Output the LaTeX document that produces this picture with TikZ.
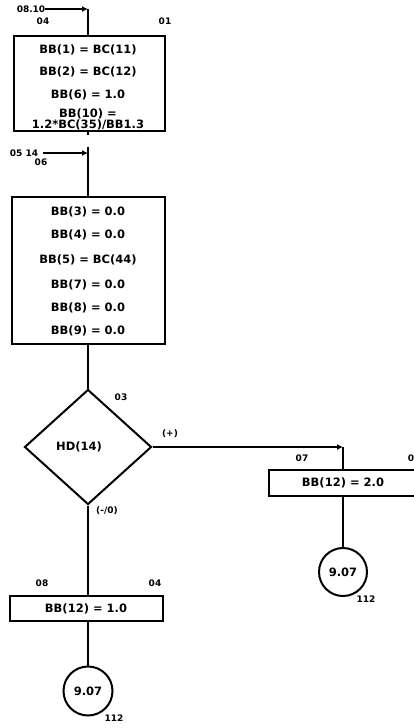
\documentclass[tikz,border=0pt]{standalone}
\usepackage{fontspec}
\setmainfont{DejaVu Sans}
\usetikzlibrary{shapes.geometric,arrows.meta}
\begin{document}
\begin{tikzpicture}[x=1pt,y=-1pt,
  every node/.style={font=\bfseries\fontsize{11.5}{12}\selectfont, inner sep=0pt},
  ln/.style={line width=1.7pt},
  boxf/.style={draw, line width=2pt, rectangle, inner sep=0pt},
  lbl/.style={font=\bfseries\fontsize{9}{10}\selectfont},
  tip/.style={-{Latex[length=6pt,width=6pt]}}]
\useasboundingbox (0,0) rectangle (414,728);
\clip (0,0) rectangle (414,728);
% box 1
\node[boxf, minimum width=151pt, minimum height=95pt] (b1) at (89.5,83.5) {};
\node (b1a) at (88,50) {BB(1) = BC(11)};
\node (b1b) at (88,72) {BB(2) = BC(12)};
\node (b1c) at (88,95) {BB(6) = 1.0};
\node (b1d) at (88,114) {BB(10) =};
\node (b1e) at (88,125) {1.2*BC(35)/BB1.3};
\node[lbl] (l0810) at (31,9) {08.10};
\node[lbl] (l04a) at (43,21) {04};
\node[lbl] (l01) at (165,21) {01};
\coordinate (c1) at (88,9);
\draw[ln, tip] (l0810.east) -- (c1);
\draw[ln] (c1) -- (88,36);
% connector between boxes
\coordinate (c2) at (88,153);
\node[lbl] (l0514) at (24,153) {05 14};
\node[lbl] (l06) at (41,162) {06};
\draw[ln] (88,131) -- (88,135);
\draw[ln, tip] (l0514.east) ++(5,0) -- (c2);
% box 2
\node[boxf, minimum width=153pt, minimum height=147pt] (b2) at (88.5,270.5) {};
\draw[ln] (88,147) -- (b2.north -| 88,0);
\node at (88,212) {BB(3) = 0.0};
\node at (88,235) {BB(4) = 0.0};
\node at (88,260) {BB(5) = BC(44)};
\node at (88,285) {BB(7) = 0.0};
\node at (88,308) {BB(8) = 0.0};
\node at (88,331) {BB(9) = 0.0};
% diamond
\node[draw, line width=2pt, diamond, minimum width=127pt, minimum height=115pt] (d) at (88,447) {};
\node at (79,447) {HD(14)};
\node[lbl] (l03) at (121,397) {03};
\node[lbl] (lplus) at (170,434) {(+)};
\node[lbl] (lmin) at (107,511) {(-/0)};
\draw[ln] (b2.south -| d.north) -- (d.north);
% right branch
\node[boxf, minimum width=148pt, minimum height=26pt] (b3) at (343,483) {};
\node at (343,483) {BB(12) = 2.0};
\node[lbl] (l07) at (302,458) {07};
\node[lbl] (l0r) at (411,458) {0};
\coordinate (c3) at (343,447);
\draw[ln, tip] (d.east) -- (c3);
\draw[ln] (c3) -- (b3.north);
\node[draw, circle, line width=2pt, minimum size=48pt] (o1) at (343,572) {9.07};
\node[lbl] (l112a) at (366,599) {112};
\draw[ln] (b3.south) -- (o1.north);
% left branch
\node[boxf, minimum width=153pt, minimum height=25pt] (b4) at (86.5,608.5) {};
\node at (86,608.5) {BB(12) = 1.0};
\node[lbl] (l08) at (42,583) {08};
\node[lbl] (l04b) at (155,583) {04};
\draw[ln] (d.south) -- (b4.north -| d.south);
\node[draw, circle, line width=2pt, minimum size=49pt] (o2) at (88,691) {9.07};
\node[lbl] (l112b) at (114,718) {112};
\draw[ln] (b4.south -| o2.north) -- (o2.north);
\end{tikzpicture}
\end{document}
